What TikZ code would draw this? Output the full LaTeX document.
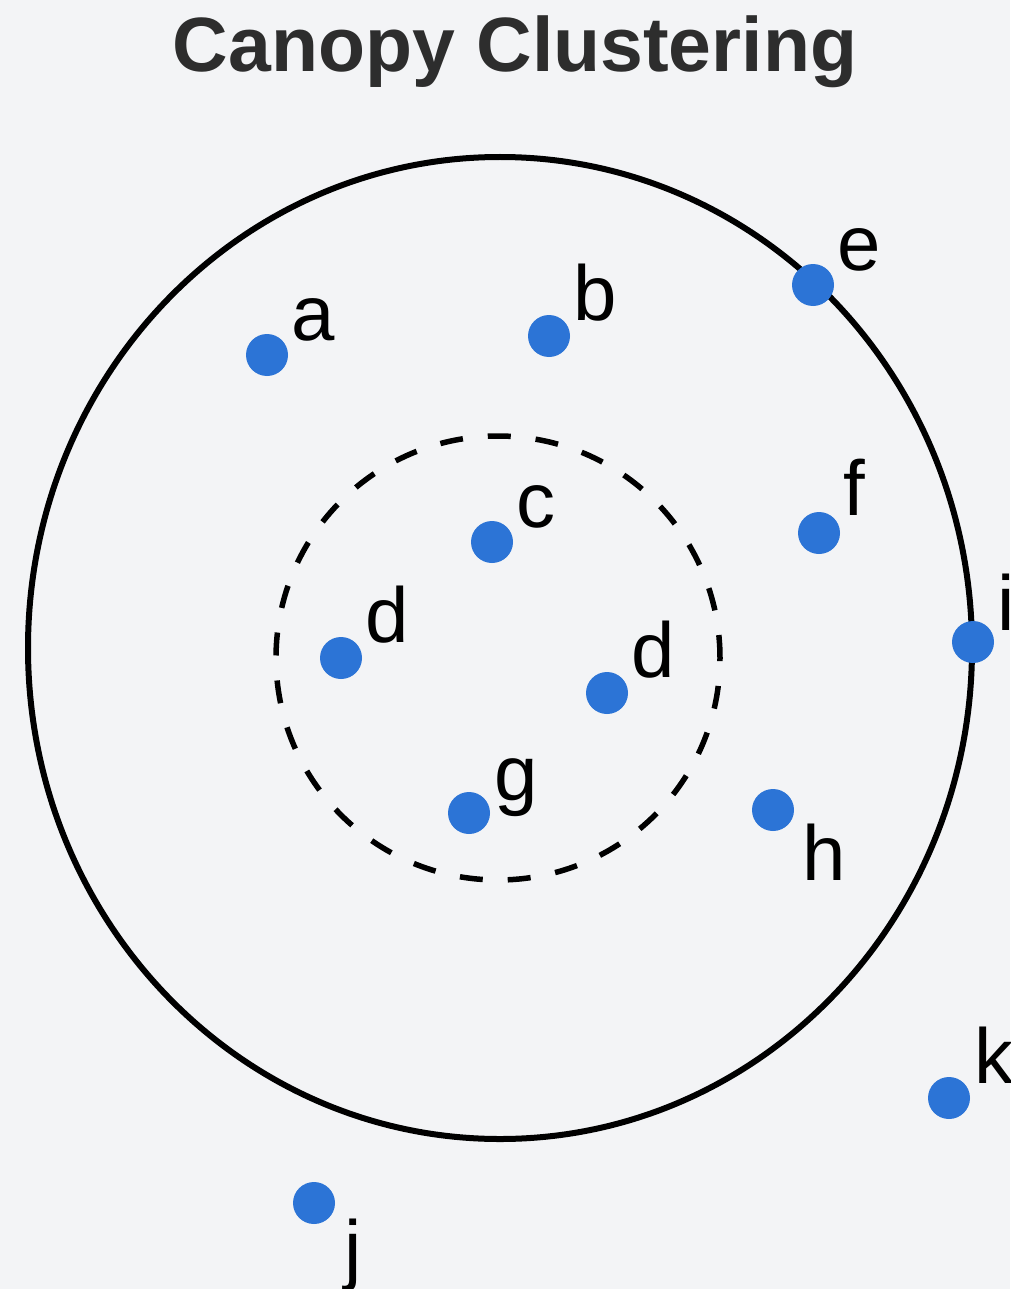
\documentclass[tikz,border=0pt]{standalone}
\usepackage{fontspec}
\setmainfont{Liberation Sans}
\usepackage{xcolor}
\usetikzlibrary{
    positioning,
    calc
}

\definecolor{bgpaper}{RGB}{243,244,246}
\definecolor{ptblue}{RGB}{44,116,214}
\definecolor{titlegray}{RGB}{45,45,45}

\begin{document}
\begin{tikzpicture}[
    x=1pt, y=-1pt,
    point/.style={
        circle,
        fill=ptblue,
        draw=none,
        minimum size=42pt,
        inner sep=0pt
    },
    lbl/.style={
        font=\fontsize{78}{80}\selectfont,
        text=black,
        inner sep=0pt,
        anchor=base west
    },
    canopy/.style={
        draw=black,
        line width=6pt
    },
    tight/.style={
        draw=black,
        line width=5.5pt,
        dash pattern=on 23pt off 25pt
    }
]

% =========================================================
% Canvas
% =========================================================
\fill[bgpaper] (0,0) rectangle (1010,1289);
\useasboundingbox (0,0) rectangle (1010,1289);

\node[font=\fontsize{77}{80}\selectfont\bfseries, text=titlegray,
      inner sep=0pt, anchor=base] (title) at (515,72) {Canopy Clustering};

% =========================================================
% Canopy circles
% =========================================================
\coordinate (ctr) at (500,648);
\coordinate (inner) at (498,658);

\draw[canopy] (ctr) ellipse [x radius=472pt, y radius=491pt];
\draw[tight] (inner) circle [radius=222pt];

% =========================================================
% Points
% =========================================================
\node[point] (a)  at (267,355) {};
\node[point] (b)  at (549,336) {};
\node[point] (e)  at (813,285) {};
\node[point] (c)  at (492,542) {};
\node[point] (f)  at (819,533) {};
\node[point] (d1) at (341,658) {};
\node[point] (i)  at (973,642) {};
\node[point] (d2) at (607,693) {};
\node[point] (g)  at (469,813) {};
\node[point] (h)  at (773,810) {};
\node[point] (k)  at (949,1098) {};
\node[point] (j)  at (314,1203) {};

% =========================================================
% Labels
% =========================================================
\node[lbl] (la)  at ([shift={(24,-15)}]a.center)  {a};
\node[lbl] (lb)  at ([shift={(24,-16)}]b.center)  {b};
\node[lbl] (le)  at ([shift={(24,-15)}]e.center)  {e};
\node[lbl] (lc)  at ([shift={(24,-15)}]c.center)  {c};
\node[lbl] (lf)  at ([shift={(24,-18)}]f.center)  {f};
\node[lbl] (ld1) at ([shift={(24,-16)}]d1.center) {d};
\node[lbl] (li)  at ([shift={(24,-12)}]i.center)  {i};
\node[lbl] (ld2) at ([shift={(24,-16)}]d2.center) {d};
\node[lbl] (lg)  at ([shift={(25,-13)}]g.center)  {g};
\node[lbl] (lk)  at ([shift={(25,-15)}]k.center)  {k};
\node[lbl] (lh)  at ([shift={(29,70)}]h.center)   {h};
\node[lbl] (lj)  at ([shift={(30,72)}]j.center)   {j};

\end{tikzpicture}
\end{document}
